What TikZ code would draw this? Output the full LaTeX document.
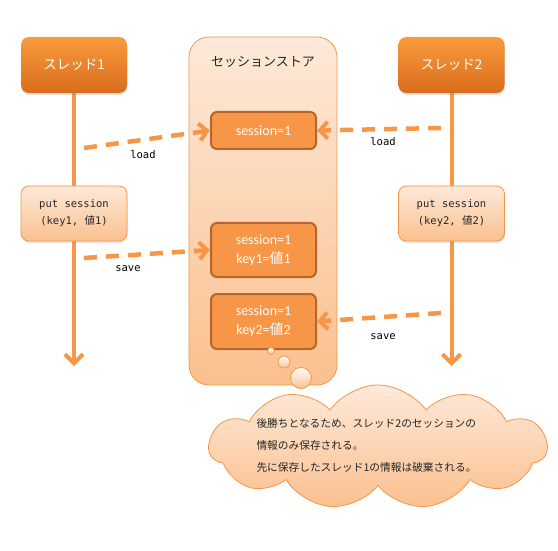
\documentclass[tikz,border=0pt]{standalone}
\usepackage{fontspec}
\newfontfamily\jp{Noto Sans CJK JP}
\newfontfamily\lat{Carlito}
\newfontfamily\mono{DejaVu Sans Mono}
\usetikzlibrary{arrows.meta,shapes.symbols,shadows,backgrounds}
\definecolor{acc}{HTML}{F79646}
\definecolor{accdark}{HTML}{B8652B}
\definecolor{thtop}{HTML}{F99A3C}
\definecolor{thbot}{HTML}{D96D1C}
\definecolor{peachtop}{HTML}{FDE9D9}
\definecolor{peachbot}{HTML}{FBC08E}
\tikzset{
  thread/.style={rounded corners=8pt, top color=thtop, bottom color=thbot, draw=none,
    minimum width=106pt, minimum height=56pt, text=white, font=\jp\fontsize{13.5}{15}\selectfont,
    drop shadow={opacity=0.25, shadow xshift=0.5pt, shadow yshift=-2pt}},
  putbox/.style={rounded corners=8pt, top color=peachtop, bottom color=peachbot, draw=acc, line width=0.8pt,
    minimum width=106pt, minimum height=55pt, align=center, font=\mono\fontsize{10.5}{17}\selectfont, text=black!85,
    drop shadow={opacity=0.2, shadow xshift=0.5pt, shadow yshift=-2pt}},
  storebox/.style={rounded corners=20pt, top color=peachtop, bottom color=peachbot, draw=acc, line width=0.8pt,
    minimum width=148pt, minimum height=348pt},
  valbox/.style={rounded corners=6pt, fill=acc, draw=accdark, line width=2pt, minimum width=105pt,
    align=center, text=white, font=\lat\fontsize{14}{19}\selectfont},
  life/.style={acc, line width=4pt, -{Straight Barb[length=9pt,width=18pt,line width=4pt]}},
  msg/.style={acc, line width=4.5pt, dash pattern=on 13pt off 9pt, -{Straight Barb[length=8pt,width=17pt,line width=4pt]}},
  lbl/.style={font=\mono\fontsize{10.5}{12}\selectfont, text=black},
  bubble/.style={circle, draw=acc, line width=0.8pt, inner sep=0pt, top color=white, bottom color=peachbot},
}
\begin{document}
\begin{tikzpicture}[x=1pt,y=-1pt]
\useasboundingbox (0,0) rectangle (558,551);
% threads
\node[thread] (t1) at (74,65) {スレッド1};
\node[thread] (t2) at (451.5,65) {スレッド2};
% store
\node[storebox] (store) at (263,211) {};
\node[font=\jp\fontsize{13}{15}\selectfont, text=black!85] (title) at (263,62) {セッションストア};
\node[valbox, minimum height=37pt] (s1) at (263.5,130.5) {session=1};
\node[valbox, minimum height=54pt] (s2) at (263.5,250) {session=1\\key1={\jp 値}1};
\node[valbox, minimum height=55pt] (s3) at (263.5,321.5) {session=1\\key2={\jp 値}2};
% put boxes
\node[putbox] (p1) at (74,213.5) {put session\\(key1, {\jp 値}1)};
\node[putbox] (p2) at (451.5,213.5) {put session\\(key2, {\jp 値}2)};
% lifelines
\coordinate (e1) at (74,366);
\coordinate (e2) at (451.5,366);
\begin{scope}[on background layer]
\draw[life] (t1.south) -- (e1);
\draw[life] (t2.south) -- (e2);
\end{scope}
% messages
\coordinate (l1) at (84,148);
\coordinate (l2) at (441,128);
\coordinate (v1) at (84,258);
\coordinate (v2) at (441,313);
\draw[msg] (l1) -- (s1.west);
\draw[msg] (l2) -- (s1.east);
\draw[msg] (v1) -- (s2.west);
\draw[msg] (v2) -- (s3.east);
\node[lbl] (ll1) at (143,155) {load};
\node[lbl] (ll2) at (383,142) {load};
\node[lbl] (vl1) at (128,269) {save};
\node[lbl] (vl2) at (383,337) {save};
% bubbles
\node[bubble, minimum size=7pt] (b1) at (271,351) {};
\node[bubble, minimum size=12pt] (b2) at (284,362) {};
\node[bubble, minimum size=21pt] (b3) at (301,378) {};
% cloud
\node[cloud, cloud puffs=11, cloud puff arc=110, cloud ignores aspect, minimum width=338pt, minimum height=124pt,
  draw=acc, line width=0.8pt, top color=peachtop, bottom color=peachbot] (cl) at (378,447) {};
\node[anchor=west, align=left, font=\jp\fontsize{10.7}{22}\selectfont, text=black!85] (ct) at (253,445)
  {後勝ちとなるため、スレッド2のセッションの\\情報のみ保存される。\\先に保存したスレッド1の情報は破棄される。};
\end{tikzpicture}
\end{document}
